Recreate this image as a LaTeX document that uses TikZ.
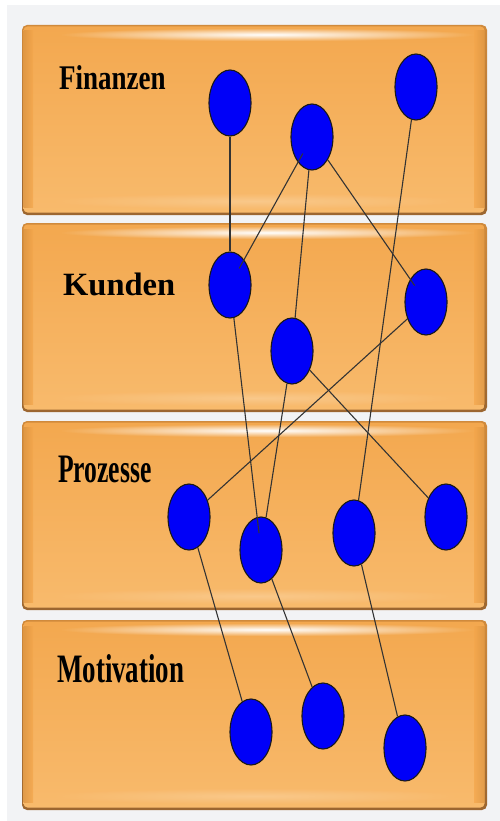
\documentclass[tikz,border=0pt]{standalone}
\usepackage{fontspec}
\setmainfont{Liberation Serif}
\usetikzlibrary{shapes.geometric,fadings}
\tikzfading[name=softstrip, inner color=transparent!0, outer color=transparent!100]
\definecolor{bgray}{HTML}{F2F3F5}
\definecolor{edgetop}{HTML}{D08A3C}
\definecolor{edgebot}{HTML}{9C6630}
\definecolor{bandtop}{HTML}{F3A84F}
\definecolor{bandmid}{HTML}{F4A64B}
\definecolor{bandbot}{HTML}{F8BA6C}
\definecolor{bandside}{HTML}{D8903E}
\definecolor{blobblue}{HTML}{0000F8}
\tikzset{
  blob/.style={ellipse, draw=black!90, line width=1.1pt, fill=blobblue,
    minimum width=42pt, minimum height=66pt, inner sep=0pt},
  link/.style={draw=black!80, line width=1.1pt},
  lbl/.style={anchor=base west, inner sep=0pt, font=\bfseries},
}
\newcommand\orangeband[2]{%
  \shade[rounded corners=5pt, top color=edgetop, bottom color=edgebot] (22,#1) rectangle (487,#2);
  \shade[rounded corners=4pt, top color=bandtop, middle color=bandmid, bottom color=bandbot]
    (23.5,#1+1.5) rectangle (484.5,#2-2.5);
  \shade[left color=bandside, right color=bandmid, opacity=0.7] (23.5,#1+6) rectangle (33,#2-8);
  \shade[left color=bandmid, right color=bandside, opacity=0.7] (474,#1+6) rectangle (484.5,#2-8);
  \fill[white, path fading=softstrip] (60,#1+3) rectangle (475,#1+16);
  \fill[bandbot!70!white, opacity=0.7, path fading=softstrip] (50,#2-22) rectangle (460,#2-6);
}
\begin{document}
\begin{tikzpicture}[x=1pt,y=-1pt]
\useasboundingbox (0,0) rectangle (500,821);
\fill[white] (0,0) rectangle (500,821);
\fill[bgray] (7,5) rectangle (500,821);

\orangeband{25}{215}
\orangeband{223}{412}
\orangeband{421}{610}
\orangeband{620}{810}

\node[lbl] (tF) at (59,90) {\scalebox{1}[1.28]{\fontsize{27}{27}\selectfont Finanzen}};
\node[lbl] (tK) at (63,295) {\scalebox{1}[1.0]{\fontsize{32.5}{32.5}\selectfont Kunden}};
\node[lbl] (tP) at (58,482) {\scalebox{1}[1.58]{\fontsize{25.6}{25.6}\selectfont Prozesse}};
\node[lbl] (tM) at (57,682) {\scalebox{1}[1.5]{\fontsize{26.9}{26.9}\selectfont Motivation}};

\node[blob] (F1) at (230,103) {};
\node[blob] (F2) at (312,137) {};
\node[blob] (F3) at (416,87) {};
\node[blob] (K1) at (230,285) {};
\node[blob] (K2) at (426,302) {};
\node[blob] (K3) at (292,351) {};
\node[blob] (P1) at (189,517) {};
\node[blob] (P2) at (261,550) {};
\node[blob] (P3) at (354,533) {};
\node[blob] (P4) at (446,517) {};
\node[blob] (M1) at (251,732) {};
\node[blob] (M2) at (323,716) {};
\node[blob] (M3) at (405,748) {};

\draw[link] (F1) -- (K1);
\draw[link, shorten <=19pt, shorten >=19pt] (F2.center) -- (K1.center);
\draw[link] (F2) -- (K3);
\draw[link, shorten >=20pt] (F2) -- (K2.center);
\draw[link] (F3) -- (P3);
\draw[link, shorten >=17pt] (K1) -- (P2.center);
\draw[link] (K3) -- (P2);
\draw[link] (K2) -- (P1);
\draw[link] (K3) -- (P4);
\draw[link] (P1) -- (M1);
\draw[link] (P2) -- (M2);
\draw[link] (P3) -- (M3);
\end{tikzpicture}
\end{document}
